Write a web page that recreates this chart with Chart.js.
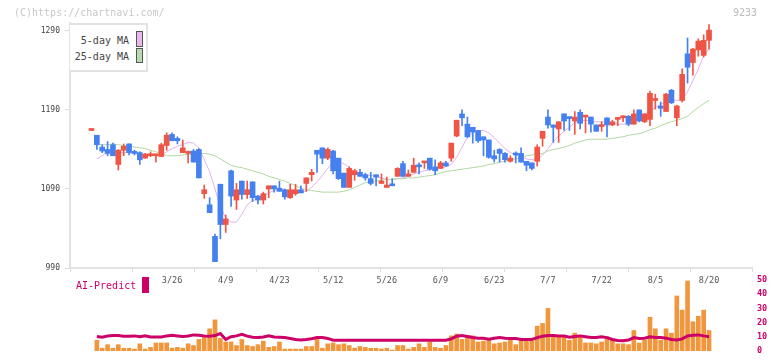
<!DOCTYPE html>
<html><head><meta charset="utf-8">
<script src="https://cdn.jsdelivr.net/npm/chart.js@4/dist/chart.umd.min.js"></script>
<style>
html,body{margin:0;padding:0;background:#fff;}
#wrap{position:relative;width:772px;height:361px;overflow:hidden;font-family:"DejaVu Sans Mono",monospace;}
canvas{position:absolute;left:0;}
#c1{top:0;width:772px;height:300px;}
#c2{top:270px;width:772px;height:91px;}
.t{position:absolute;white-space:nowrap;line-height:12px;}
.box{position:absolute;box-sizing:border-box;border:1px solid #555;}
</style></head><body>
<div id="wrap">
<canvas id="c2" width="772" height="91"></canvas>
<canvas id="c1" width="772" height="300"></canvas>
<div class="t" style="left:14px;top:7px;font-size:10px;color:#c8c8c8">(C)https://chartnavi.com/</div>
<div class="t" style="left:733px;top:7px;font-size:10px;color:#bbb">9233</div>
<div style="position:absolute;left:70px;top:23px;width:78px;height:49px;box-sizing:border-box;border:2px solid #e2e2e2;border-left:none;background:#fff"></div>
<div class="t" style="left:72px;width:57px;text-align:right;top:35px;font-size:10px;color:#444">5-day MA</div>
<div class="t" style="left:72px;width:57px;text-align:right;top:51px;font-size:10px;color:#444">25-day MA</div>
<div class="box" style="left:136px;top:31px;width:7px;height:16px;background:#e8b8ec"></div>
<div class="box" style="left:136px;top:48px;width:7px;height:15px;background:#b8dcb0"></div>
<div class="t" style="left:76px;top:280px;font-size:10px;color:#cc0066">AI-Predict</div>
<div style="position:absolute;left:142px;top:277px;width:7px;height:16px;background:#cc0066"></div>
</div>
<script>
const xTickLabels = ['3/26','4/9','4/23','5/12','5/26','6/9','6/23','7/7','7/22','8/5','8/20'];
const xTickIdx = [15,25,35,45,55,65,75,85,95,105,115];
const yTicks = [990,1090,1190,1290];
const aiTicks = [0,10,20,30,40,50];

const opens = [1164,1158,1143,1140,1146,1121,1139,1147,1137,1136, 1129,1132,1132,1131,1145,1159,1154,1136,1135,1138,
 1140,1084,1070,1030,1096,1045,1113,1076,1100,1083, 1099,1081,1076,1090,1094,1091,1089,1079,1084,1089,
 1097,1108,1139,1142,1129,1138,1129,1110,1092,1108, 1111,1108,1103,1108,1097,1092,1096,1106,1122,1106,
 1111,1120,1123,1129,1118,1116,1123,1129,1157,1185, 1172,1168,1164,1156,1152,1132,1140,1135,1125,1135,
 1135,1125,1123,1125,1154,1181,1171,1166,1185,1181, 1176,1187,1181,1181,1171,1169,1180,1171,1178,1180,
 1182,1172,1190,1175,1178,1202,1195,1188,1215,1180, 1202,1261,1250,1266,1259,1278];
const highs = [1164,1158,1146,1150,1148,1140,1147,1147,1139,1137, 1135,1137,1133,1148,1161,1161,1156,1152,1138,1140,
 1141,1095,1079,1033,1096,1057,1114,1097,1100,1100, 1099,1082,1086,1094,1094,1100,1090,1096,1096,1094,
 1104,1115,1139,1142,1142,1139,1129,1110,1118,1115, 1115,1110,1111,1108,1109,1105,1103,1117,1125,1114,
 1129,1123,1125,1129,1127,1125,1125,1148,1177,1190, 1181,1168,1164,1156,1152,1139,1141,1136,1132,1137,
 1142,1125,1123,1146,1163,1190,1171,1175,1185,1181, 1188,1190,1183,1181,1171,1175,1180,1177,1180,1183,
 1183,1190,1190,1185,1214,1210,1200,1211,1216,1196, 1242,1281,1268,1280,1285,1298];
const lows = [1164,1140,1136,1132,1132,1114,1132,1133,1133,1121, 1129,1131,1124,1131,1139,1151,1147,1136,1123,1124,
 1104,1078,1060,998,1027,1035,1068,1064,1077,1078, 1074,1071,1071,1079,1086,1087,1077,1078,1082,1085,
 1087,1100,1111,1122,1127,1109,1102,1092,1092,1101, 1106,1101,1095,1094,1097,1092,1094,1106,1106,1106,
 1111,1109,1116,1114,1108,1116,1119,1125,1156,1170, 1155,1148,1149,1132,1129,1124,1124,1124,1124,1123,
 1124,1113,1114,1119,1144,1167,1149,1149,1164,1164, 1159,1166,1161,1162,1163,1163,1156,1170,1170,1175,
 1170,1172,1175,1174,1170,1191,1182,1188,1198,1170, 1200,1224,1234,1258,1257,1267];
const closes = [1164,1146,1138,1135,1132,1139,1144,1136,1135,1127, 1134,1133,1133,1146,1158,1151,1151,1142,1137,1124,
 1104,1089,1060,998,1045,1052,1081,1089,1083,1089, 1079,1076,1084,1094,1090,1087,1080,1089,1089,1085,
 1104,1111,1134,1129,1140,1113,1103,1092,1116,1113, 1106,1104,1097,1105,1100,1095,1094,1116,1106,1109,
 1120,1118,1124,1115,1113,1123,1119,1148,1177,1180, 1156,1162,1151,1152,1130,1128,1135,1127,1129,1133,
 1124,1120,1116,1143,1163,1171,1168,1175,1176,1179, 1181,1173,1182,1172,1163,1171,1171,1175,1180,1181,
 1172,1185,1176,1185,1211,1203,1192,1210,1199,1195, 1235,1244,1267,1277,1278,1291];
const ma5 = [null,1128,1132,1137,1137,1136,1136,1136,1135,1134, 1134,1134,1133,1133,1137,1141,1144,1146,1149,1148,
 1142,1127,1112,1090,1068,1053,1048,1048,1058,1070, 1075,1078,1080,1085,1088,1089,1089,1086,1086,1086,
 1087,1092,1099,1107,1116,1124,1124,1122,1117,1111, 1108,1108,1107,1106,1104,1102,1102,1103,1104,1106,
 1109,1111,1113,1114,1115,1116,1118,1121,1130,1143, 1155,1161,1164,1164,1161,1155,1148,1141,1136,1133,
 1131,1128,1127,1127,1133,1141,1150,1157,1163,1168, 1174,1176,1177,1176,1175,1175,1174,1173,1172,1172,
 1172,1175,1180,1185,1188,1193,1197,1200,1203,1202, 1203,1213,1227,1242,1258,1268];
const ma25 = [null,1146,1146,1146,1147,1146,1145,1144,1143,1142, 1141,1139,1137,1135,1132,1132,1132,1133,1134,1134,
 1135,1135,1134,1132,1128,1124,1120,1118,1117,1115, 1113,1111,1109,1106,1104,1102,1100,1097,1094,1091,
 1089,1088,1087,1086,1086,1086,1086,1087,1089,1092, 1095,1098,1099,1100,1101,1102,1102,1103,1103,1104,
 1104,1105,1106,1107,1108,1110,1112,1113,1114,1115, 1116,1117,1118,1119,1121,1122,1124,1125,1127,1128,
 1130,1132,1133,1134,1135,1138,1140,1141,1143,1145, 1148,1150,1152,1153,1153,1153,1153,1154,1155,1156,
 1158,1159,1160,1162,1165,1167,1170,1173,1175,1177, 1179,1182,1188,1193,1198,1202];
const aiBars = [null,7.5,1.9,4.4,1.9,4.4,1.9,1.9,1.3,5, 1.3,2.5,5.6,5.6,5.6,1.9,2.5,1.9,5,3.8,
 8.1,9.4,15.6,21.9,8.8,6.3,6.3,3.8,8.1,3.8, 3.1,4.4,6.9,2.5,3.1,6.3,1.3,1.3,1.3,1.3,
 3.1,3.1,8.1,1.9,5,5.6,4.4,5,3.8,1.9, 3.1,2.5,1.9,1.9,1.3,1.9,0.6,3.8,3.8,1.3,
 2.5,5,2.5,6.3,2.5,1.9,3.8,10.6,11.9,8.1, 10.6,10.6,6.3,6.9,8.8,5,5.6,6.3,7.5,4.4,
 6.9,6.9,6.9,17.5,19.4,30,10.6,10.6,10.6,7.5, 12.5,10.6,5.6,5.6,5,6.3,10,7.5,5,5,
 4.4,14.4,5.6,7.5,23.8,15.6,7.5,15.6,12.5,38.8, 28.8,49.4,20.6,24.4,28.8,14.4];
const aiLine = [null,10.2,9.6,10.6,10.8,10.8,10.4,10.4,10.6,10, 10.6,9.8,9.8,9.8,10.6,11,10.6,10.2,10.6,11.3,
 11,10.6,10.4,10.8,12.3,8.1,10,10.6,11.7,10.4, 9.6,9.4,9.8,10.6,9.8,9.6,9.4,8.8,8.1,7.7,
 8,8.6,9.4,9.4,8.8,7.5,7.5,7.5,7.5,7.5, 7.5,7.5,7.5,7.5,7.5,7.5,7.5,7.5,7.5,7.5,
 7.5,7.5,7.5,7.5,7.5,7.5,7.5,8.5,10.4,10.8, 10.2,9.4,9,9,8.3,9,9.4,9,8.8,8.8,
 8.1,8.1,8.1,9.4,10.3,10.9,10.8,10.6,10.6,9.6, 10.2,10.6,10,9.4,9.4,10,9.4,8.1,7.3,7.1,
 7.7,9.4,8.8,9,10,9.4,9.4,9,8.1,7.7, 8.5,10.6,11,11.3,10.6,10];

const FONT = '"DejaVu Sans Mono", monospace';
Chart.defaults.font.family = FONT;
const RED = '#f05444', BLUE = '#4580f0';
const idx = closes.map((_, i) => i);
const isUp = i => closes[i] >= opens[i];
const candleColors = idx.map(i => isUp(i) ? RED : BLUE);
const xMin = -4, xMax = 123;
const gridMarks = [];
for (let j = 0; j <= 11; j++) gridMarks.push(xMin + j * (xMax - xMin) / 11);

new Chart(document.getElementById('c1'), {
  type: 'bar',
  data: { datasets: [
    { type: 'line', label: '5-day MA', data: idx.map(i => ({x: i, y: ma5[i]})), borderColor: '#e4b0ec', borderWidth: 1, pointRadius: 0, order: 4 },
    { type: 'line', label: '25-day MA', data: idx.map(i => ({x: i, y: ma25[i]})), borderColor: '#b0d8a0', borderWidth: 1, pointRadius: 0, order: 3 },
    { label: 'wick', data: idx.map(i => ({x: i, y: [lows[i], highs[i]]})), backgroundColor: candleColors, barThickness: 1, grouped: false, order: 2 },
    { label: 'body', data: idx.map(i => ({x: i, y: [Math.min(opens[i], closes[i]), Math.max(opens[i], closes[i])]})), backgroundColor: candleColors, barThickness: 5, minBarLength: 2, grouped: false, order: 1 }
  ]},
  options: {
    responsive: false, animation: false,
    layout: { padding: { left: 0, right: 20, top: 23, bottom: 0 } },
    plugins: { legend: { display: false }, tooltip: { enabled: false } },
    scales: {
      x: {
        type: 'linear', min: xMin, max: xMax, offset: false,
        afterBuildTicks: s => { s.ticks = gridMarks.concat(xTickIdx).sort((a, b) => a - b).map(v => ({value: v})); },
        afterFit: s => { s.height = 32; },
        grid: { offset: false, drawOnChartArea: false, tickLength: 4, lineWidth: 1,
          color: ctx => (ctx.tick && xTickIdx.includes(ctx.tick.value)) ? 'rgba(0,0,0,0)' : '#dcdcdc' },
        border: { color: '#e2e2e2', width: 2 },
        ticks: { autoSkip: false, maxRotation: 0, padding: 4, color: '#555', font: { size: 8.5 },
          callback: v => { const k = xTickIdx.indexOf(v); return k >= 0 ? xTickLabels[k] : ''; } }
      },
      y: {
        min: 990, max: 1300,
        afterBuildTicks: s => { s.ticks = yTicks.map(v => ({value: v})); },
        afterFit: s => { s.width = 70; },
        grid: { drawOnChartArea: false, tickLength: 5, color: '#dcdcdc' },
        border: { color: '#e2e2e2', width: 2 },
        ticks: { padding: 5, color: '#444', font: { size: 8 }, callback: v => String(v) }
      }
    }
  }
});

new Chart(document.getElementById('c2'), {
  type: 'bar',
  data: { datasets: [
    { type: 'line', label: 'AI-Predict', data: idx.map(i => ({x: i, y: aiLine[i]})), borderColor: '#cc0066', borderWidth: 3, pointRadius: 0, order: 1 },
    { label: 'bars', data: idx.map(i => ({x: i, y: aiBars[i]})), backgroundColor: '#f0963c', barThickness: 4, order: 2 }
  ]},
  options: {
    responsive: false, animation: false,
    layout: { padding: { left: 70, right: 0, top: 8, bottom: 4 } },
    plugins: { legend: { display: false }, tooltip: { enabled: false } },
    scales: {
      x: { type: 'linear', min: xMin, max: xMax, offset: false, display: false, grid: { offset: false } },
      y: {
        position: 'right', min: 0, max: 50,
        afterBuildTicks: s => { s.ticks = aiTicks.map(v => ({value: v})); },
        afterFit: s => { s.width = 20; },
        grid: { display: false, drawTicks: false, tickLength: 0 }, border: { display: false },
        ticks: { padding: 5, color: '#cc0066', font: { size: 8.5, weight: 'bold' }, callback: v => String(v) }
      }
    }
  }
});
</script>
</body></html>
